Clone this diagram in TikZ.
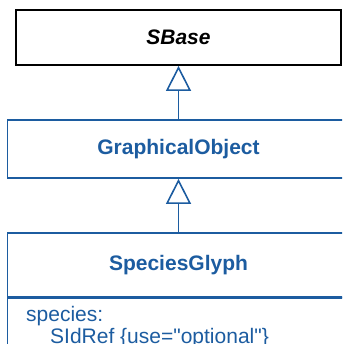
\documentclass[tikz,border=0pt]{standalone}
\usepackage{fontspec}
\setmainfont{Liberation Sans}
\usetikzlibrary{arrows.meta}
\definecolor{umlblue}{RGB}{28,92,160}
\tikzset{
  classbox/.style={draw=umlblue, line width=1.8pt, fill=white, text=umlblue,
    font=\fontsize{21}{24}\selectfont\bfseries, inner sep=0pt, anchor=center},
  basebox/.style={draw=black, line width=1.8pt, fill=white, text=black,
    font=\fontsize{21}{24}\selectfont\bfseries\itshape, inner sep=0pt},
  inherit/.style={draw=umlblue, line width=1.6pt,
    -{Triangle[open, length=25pt, width=25pt, line width=1.6pt]}},
  attr/.style={text=umlblue, font=\fontsize{21}{22}\selectfont, anchor=base west, inner sep=0pt}
}
\begin{document}
\begin{tikzpicture}[x=1pt,y=-1pt]
\useasboundingbox (0,0) rectangle (342,344);
\clip (0,0) rectangle (342,344);
\node[basebox, minimum width=325pt, minimum height=55pt] (sbase) at (178.5,37.5) {SBase};
\node[classbox, minimum width=342pt, minimum height=58pt] (go) at (178.5,149) {GraphicalObject};
\node[draw=umlblue, line width=1.8pt, minimum width=342pt, minimum height=70pt, inner sep=0pt, anchor=north] (sgattr) at (178.5,297) {};
\node[classbox, minimum width=342pt, minimum height=64pt] (sg) at (178.5,265) {SpeciesGlyph};
\node[attr] (a1) at (26,321) {species:};
\node[attr] (a2) at (50,343) {SIdRef \{use=\textquotedbl optional\textquotedbl\}};
\draw[inherit] (go.north) -- (sbase.south);
\draw[inherit] (sg.north) -- (go.south);
\end{tikzpicture}
\end{document}
